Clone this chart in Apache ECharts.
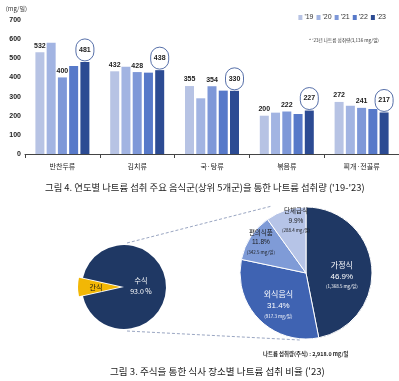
<!DOCTYPE html>
<html><head><meta charset="utf-8">
<script src="https://cdn.jsdelivr.net/npm/echarts@6/dist/echarts.min.js"></script>
<style>html,body{margin:0;padding:0;background:#fff}#c{width:399px;height:381px}</style>
</head><body><div id="c"></div>
<script>
const categories = ['반찬두류', '김치류', '국·탕류', '볶음류', '찌개·전골류'];
const years = ["'19", "'20", "'21", "'22", "'23"];
const v19 = [532, 432, 355, 200, 272];
const v20 = [581, 456, 291, 216, 252];
const v21 = [400, 428, 354, 222, 241];
const v22 = [460, 425, 331, 209, 235];
const v23 = [481, 438, 330, 227, 217];
const yTicks = [0, 100, 200, 300, 400, 500, 600, 700];
const mainNames = ['간식', '수식'];
const mainPct = [7.0, 93.0];
const subNames = ['가정식', '외식음식', '편의식품', '단체급식'];
const subPct = [46.9, 31.4, 11.8, 9.9];
const subMg = ['1,368.5', '917.3', '342.5', '288.4'];

const KR = '"Noto Sans CJK KR", sans-serif';
const NUM = '"Liberation Sans", Arial, sans-serif';
const barColors = ['#b7c3e4', '#a2b4e2', '#7e98d8', '#5779c9', '#2c4b93'];
const seriesVals = [v19, v20, v21, v22, v23];

const barSeries = seriesVals.map((vals, i) => {
  const s = {
    name: years[i], type: 'bar', xAxisIndex: 0, yAxisIndex: 0,
    data: vals, barWidth: 9, barGap: '25%', barCategoryGap: '28%',
    itemStyle: { color: barColors[i] },
    label: { show: false }
  };
  if (i === 0 || i === 2) {
    s.label = { show: true, position: 'top', distance: 3, fontSize: 7, fontWeight: 'bold', color: '#222', fontFamily: NUM };
  }
  if (i === 4) {
    s.label = { show: true, position: 'top', distance: 1, fontSize: 7, fontWeight: 'bold', color: '#222', fontFamily: NUM,
      borderColor: '#2c4b93', borderWidth: 0.8, borderRadius: 11, width: 18, height: 22, lineHeight: 22, align: 'center', padding: 0 };
  }
  return s;
});

const chart = echarts.init(document.getElementById('c'), null, { renderer: 'canvas' });
chart.setOption({
  animation: false,
  backgroundColor: '#fff',
  legend: {
    data: years, right: 8, top: 9, itemWidth: 4, itemHeight: 5, itemGap: 3,
    icon: 'rect', textStyle: { fontSize: 7, color: '#333', fontFamily: NUM, padding: [0, 0, 0, -3] }
  },
  grid: { left: 25, right: 0, top: 20, height: 134 },
  xAxis: {
    type: 'category', data: categories,
    axisLine: { lineStyle: { color: '#444', width: 1 } },
    axisTick: { show: true, length: 4, lineStyle: { color: '#444' } },
    axisLabel: { fontSize: 7, color: '#222', margin: 9, fontFamily: KR }
  },
  yAxis: {
    type: 'value', min: yTicks[0], max: yTicks[yTicks.length - 1], interval: 100,
    name: '(mg/일)', nameLocation: 'end', nameGap: 8,
    nameTextStyle: { fontSize: 6, color: '#333', align: 'right', fontFamily: KR, padding: [0, -2, 0, 0] },
    axisLine: { show: false }, axisTick: { show: false }, splitLine: { show: false },
    axisLabel: { fontSize: 7, color: '#222', fontWeight: 'bold', margin: 4, fontFamily: NUM }
  },
  graphic: [
    { type: 'text', left: 309, top: 38, style: { text: "* '23년 나트륨 섭취량(3,136 mg/일)", fontSize: 4.6, fill: '#333', fontFamily: KR } },
    { type: 'text', left: 45, top: 183, style: { text: "그림 4. 연도별 나트륨 섭취 주요 음식군(상위 5개군)을 통한 나트륨 섭취량 ('19-'23)", fontSize: 9.4, fill: '#222', fontFamily: KR } },
    { type: 'line', z: 0, shape: { x1: 127, y1: 243, x2: 272, y2: 206 }, style: { stroke: '#9aa6c2', lineWidth: 1, lineDash: [3, 2] } },
    { type: 'line', z: 0, shape: { x1: 127, y1: 331, x2: 300, y2: 340 }, style: { stroke: '#9aa6c2', lineWidth: 1, lineDash: [3, 2] } },
    { type: 'text', left: 263, top: 351, style: { text: '나트륨 섭취량(주식) : 2,918.0 mg/일', fontSize: 5.4, fontWeight: 'bold', fill: '#222', fontFamily: KR } },
    { type: 'text', left: 110, top: 367, style: { text: "그림 3. 주식을 통한 식사 장소별 나트륨 섭취 비율 ('23)", fontSize: 9.6, fill: '#222', fontFamily: KR } }
  ],
  series: barSeries.concat([
    {
      type: 'pie', center: [124, 287], radius: 42, startAngle: 192.6, clockwise: true,
      selectedMode: 'single', selectedOffset: 4, z: 3,
      itemStyle: { borderColor: '#fff', borderWidth: 0 },
      label: { show: true, position: 'inside', fontFamily: KR },
      labelLine: { show: false },
      data: mainNames.map((n, i) => i === 0 ? {
        name: n, value: mainPct[i], selected: true, itemStyle: { color: '#f2b705' },
        label: { formatter: '{b}', fontSize: 7, color: '#111', offset: [-10, 0] }
      } : {
        name: n, value: mainPct[i], itemStyle: { color: '#1f3864' },
        label: { formatter: (p) => p.name + '\n' + mainPct[i].toFixed(1) + ' %', fontSize: 7, color: '#fff', lineHeight: 11, offset: [-7, -1] }
      })
    },
    {
      type: 'pie', center: [306, 273], radius: 66, startAngle: 90, clockwise: true, z: 3,
      itemStyle: { borderColor: '#fff', borderWidth: 1 },
      label: { show: true, position: 'inside', fontFamily: KR },
      labelLine: { show: false },
      data: subNames.map((n, i) => {
        const colors = ['#1f3864', '#3f63b2', '#7f9bd7', '#b6c4e7'];
        const txt = i < 2 ? '#fff' : '#1a1a1a';
        const big = i < 2 ? 8 : 6.5;
        const offs = [[0, 5], [-2, 6], [-15, -12], [1, -19]];
        return {
          name: n, value: subPct[i], itemStyle: { color: colors[i] },
          label: {
            offset: offs[i],
            formatter: () => '{a|' + n + '}\n{b|' + subPct[i].toFixed(1) + '%}\n{c|(' + subMg[i] + ' mg/일)}',
            rich: {
              a: { fontSize: big, color: txt, fontFamily: KR, lineHeight: big + 4 },
              b: { fontSize: big, color: txt, fontFamily: NUM, lineHeight: big + 4 },
              c: { fontSize: 4.5, color: txt, fontFamily: KR, lineHeight: 8 }
            }
          }
        };
      })
    }
  ])
});
</script></body></html>
